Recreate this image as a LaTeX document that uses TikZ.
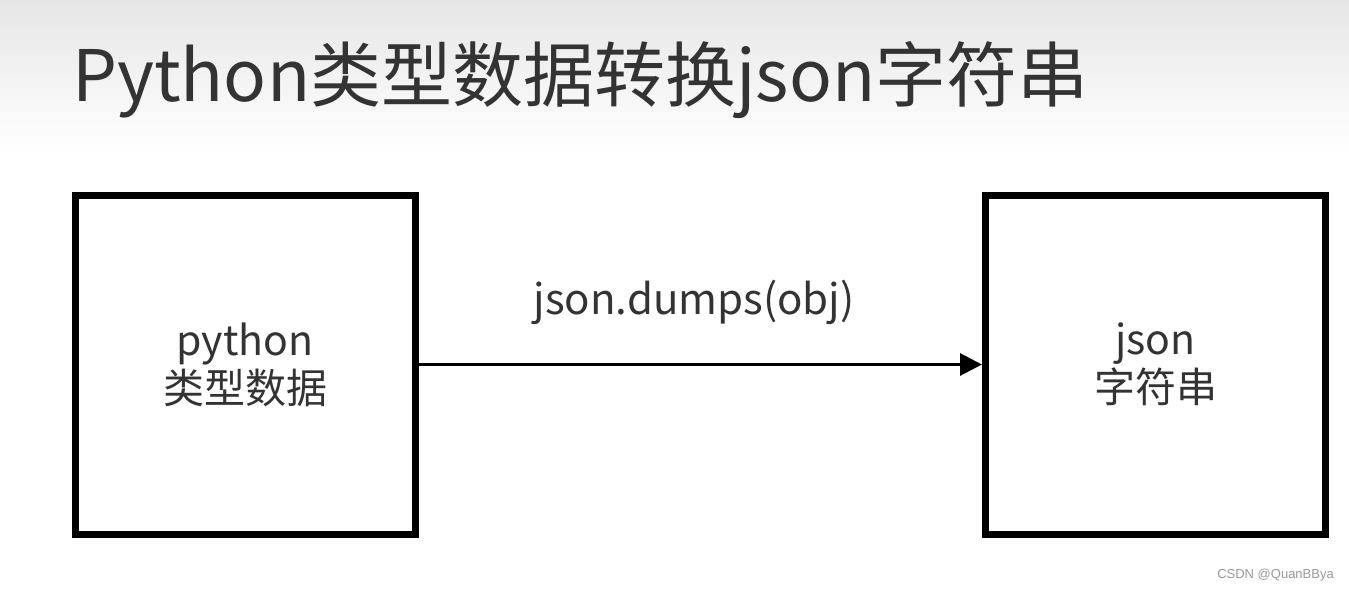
\documentclass[tikz,border=0pt]{standalone}
\usepackage{fontspec}
\setmainfont{Noto Sans CJK SC}
\newfontfamily\wmfont{Liberation Sans}
\usetikzlibrary{arrows.meta}
\definecolor{txt}{HTML}{333333}
\definecolor{topgray}{HTML}{E6E6E6}
\tikzset{
  boxnode/.style={draw=black, line width=7pt, minimum width=340pt, minimum height=339pt, inner sep=0pt, text=txt, align=center, font=\fontsize{41pt}{46pt}\selectfont},
  conn/.style={line width=3pt, -{Triangle[length=22pt,width=22pt]}},
}
\begin{document}
\begin{tikzpicture}[x=1pt,y=-1pt]
\useasboundingbox (0,0) rectangle (1349,592);
\fill[white] (0,0) rectangle (1349,592);
\shade[top color=topgray, bottom color=white] (0,0) rectangle (1349,150);
\node[anchor=west, text=txt, font=\fontsize{71pt}{75pt}\selectfont, inner sep=0pt] (title) at (72,80) {Python类型数据转换json字符串};
\node[boxnode] (py) at (245,364.5) {python\\[2pt]类型数据};
\node[boxnode] (js) at (1155.5,364.5) {json\\[2pt]字符串};
\draw[conn] (py.east) -- (js.west);
\node[text=txt, font=\fontsize{42pt}{46pt}\selectfont, inner sep=0pt] (lbl) at (694,302) {json.dumps(obj)};
\node[anchor=east, text=gray!80, font=\wmfont\fontsize{13pt}{15pt}\selectfont, inner sep=0pt] (wm) at (1334,575) {CSDN @QuanBBya};
\end{tikzpicture}
\end{document}
